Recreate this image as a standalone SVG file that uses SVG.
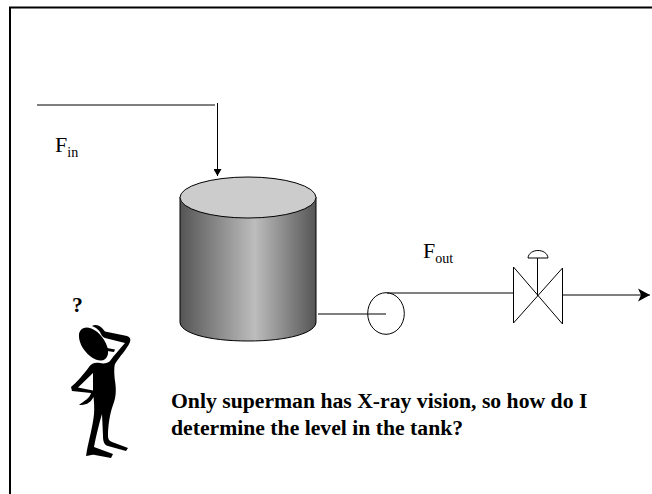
<svg xmlns="http://www.w3.org/2000/svg" width="652" height="494" viewBox="0 0 652 494">
<style>
.pipe{fill:none;stroke:#000;stroke-width:1}
.sym{fill:none;stroke:#000;stroke-width:1}
.lab{font-family:"Liberation Serif","Times New Roman",serif;font-size:22px;fill:#000}
.sub{font-size:14px}
.note{font-family:"Liberation Serif","Times New Roman",serif;font-weight:bold;font-size:21.7px;fill:#000}
</style>
<defs>
<linearGradient id="shell" x1="0" x2="1" y1="0" y2="0">
<stop offset="0" stop-color="#555"/><stop offset="0.55" stop-color="#bdbdbd"/><stop offset="1" stop-color="#555"/>
</linearGradient>
<marker id="small" markerUnits="userSpaceOnUse" markerWidth="9" markerHeight="8" refX="7" refY="4" orient="auto"><path d="M0 0L7 4L0 8Z" fill="#000"/></marker>
<marker id="big" markerUnits="userSpaceOnUse" markerWidth="12" markerHeight="14" refX="12" refY="7" orient="auto"><path d="M0 0.500L12 7L0 13.500L3 7Z" fill="#000"/></marker>
</defs>
<rect x="0" y="0" width="652" height="494" fill="#fff"/>
<path id="frame" d="M10 494V7.500H652" fill="none" stroke="#000" stroke-width="2"/>
<g id="connectors">
<path class="pipe" d="M37 105H215"/>
<path class="pipe" d="M217.500 103V176" marker-end="url(#small)"/>
<path class="pipe" d="M318 314H386"/>
<path class="pipe" d="M387 293H514"/>
<path class="pipe" d="M563 295H650" marker-end="url(#big)"/>
</g>
<g id="tank">
<path d="M180 197V322C180 333 208 341 248 341C288 341 316 333 316 322V197Z" fill="url(#shell)" stroke="#000"/>
<ellipse cx="248" cy="197.500" rx="68" ry="20.500" fill="#ccc" stroke="#000"/>
</g>
<g id="pump"><ellipse class="sym" cx="386" cy="313.500" rx="18.300" ry="20.800"/></g>
<g id="valve">
<path class="sym" d="M513.500 267V323L562.500 268V324Z"/>
<path class="sym" d="M537.500 296V258"/>
<path class="sym" d="M528 258C529 248 547 248 548 258Z"/>
</g>
<g id="figure">
<ellipse cx="93.500" cy="344" rx="19" ry="11" transform="rotate(52 93.500 344)" fill="#000"/>
<path d="M107 348L115 349.500L114 352L107 351Z" fill="#000"/>
<path fill-rule="evenodd" d="M92 326C95 324 99 325 102 328L105 331.500L127 336C130 337 131 339 130 342C127 349 120 356 115 364C114 367 114 374 115 381C116.500 390 116 398 113 405C110 413 108 425 108 436C108 439 109 441 112 442L128 448L126 451L108 446C104 445 103 441 103 436L102 414C99 424 96 436 94 447L113 454L111 458L95 455C92 454 88 456 86 456L87 450C89 440 93 425 94 414C94.500 408 94 402 93.500 397C90 404 85 405 79 405C84 401 90 398 91 393L72 391L71 387C76 383 84 374 89 367C91 363 96 362 100 363C104 364 108 363 110 361C115 354 120 349 125 343L105 338C102 337 101 334 100 332C98 329 95 327 92 326ZM93 373L78 387.500L93 390.500Z" fill="#000"/>
</g>
<g id="labels">
<text class="lab" x="55" y="152">F<tspan class="sub" dy="5">in</tspan></text>
<text class="lab" x="423" y="258">F<tspan class="sub" dy="5">out</tspan></text>
<text class="note" x="72" y="312">?</text>
<text class="note" x="171" y="408">Only superman has X-ray vision, so how do I</text>
<text class="note" x="171" y="435">determine the level in the tank?</text>
</g>
</svg>
